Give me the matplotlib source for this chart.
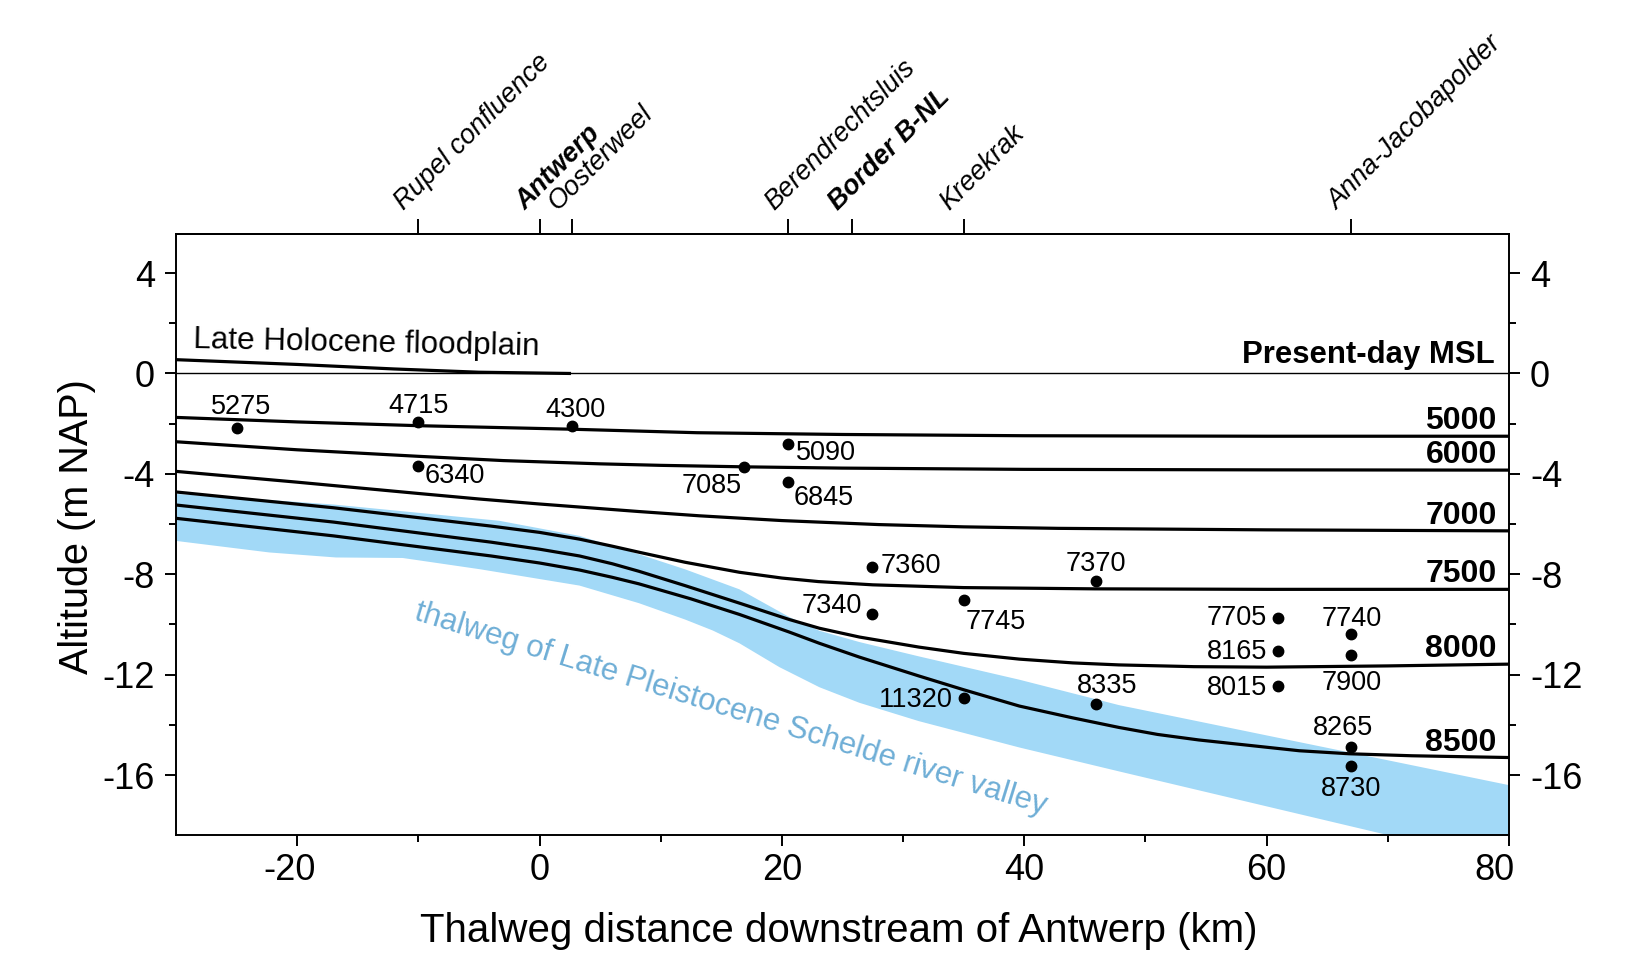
import matplotlib
matplotlib.use('Agg')
import matplotlib.pyplot as plt
import numpy as np

plt.rcParams['font.family'] = ['Liberation Sans', 'DejaVu Sans']
plt.rcParams['axes.unicode_minus'] = False

# ---------------- data ----------------
place_x = [-10, 0, 2.7, 20.5, 25.8, 35.0, 67.0]
place_names = ['Rupel confluence', 'Antwerp', 'Oosterweel', 'Berendrechtsluis',
               'Border B-NL', 'Kreekrak', 'Anna-Jacobapolder']
place_weight = ['normal', 'bold', 'normal', 'normal', 'bold', 'normal', 'normal']

x_major = [-20, 0, 20, 40, 60, 80]
x_minor = [-10, 10, 30, 50, 70]
y_major = [-16, -12, -8, -4, 0, 4]
y_minor = [-14, -10, -6, -2, 2]

floodplain_x = [-30, -20, -12, -5, 2.6]
floodplain_y = [0.55, 0.36, 0.18, 0.05, 0.0]

l5000_x = [-30, -20, -10, 2.6, 13, 25, 40, 60, 80]
l5000_y = [-1.75, -1.93, -2.08, -2.22, -2.36, -2.43, -2.48, -2.5, -2.5]
l6000_x = [-30, -20, -10, -3, 5, 10, 17, 25, 40, 60, 80]
l6000_y = [-2.72, -3.04, -3.3, -3.47, -3.6, -3.66, -3.72, -3.77, -3.82, -3.84, -3.85]
l7000_x = [-30, -20, -10, -5, 0, 8.2, 13.2, 20, 28, 35, 42.8, 60, 80]
l7000_y = [-3.9, -4.33, -4.78, -5.0, -5.2, -5.5, -5.67, -5.86, -6.02, -6.11, -6.17, -6.23, -6.27]
l7500_x = [-30, -17, -4, 0, 3.3, 6, 8.2, 12, 16.5, 20, 23, 27.5, 35, 45.8, 60, 80]
l7500_y = [-4.72, -5.35, -6.08, -6.33, -6.6, -6.88, -7.12, -7.52, -7.92, -8.15, -8.29,
           -8.42, -8.53, -8.58, -8.6, -8.6]
l8000_x = [-30, -17, -4, 0, 3.3, 6, 8.2, 12, 16.5, 20.6, 23.1, 26.4, 31.3, 35, 39.6, 44,
           47.8, 54, 60, 70, 80]
l8000_y = [-5.24, -5.92, -6.72, -7.0, -7.27, -7.58, -7.88, -8.45, -9.15, -9.8, -10.15,
           -10.5, -10.9, -11.15, -11.38, -11.53, -11.61, -11.68, -11.7, -11.65, -11.58]
l8500_x = [-30, -17, -4, 0, 3.3, 6, 8.2, 12.5, 16.5, 20.6, 23.1, 26.4, 31.3, 35, 39.6, 44,
           47.8, 51, 54.4, 62.7, 66.8, 72, 80]
l8500_y = [-5.77, -6.47, -7.27, -7.55, -7.83, -8.12, -8.38, -8.98, -9.6, -10.3, -10.75,
           -11.3, -12.05, -12.6, -13.25, -13.72, -14.1, -14.38, -14.6, -15.03, -15.15,
           -15.23, -15.3]

iso_names = ['5000', '6000', '7000', '7500', '8000', '8500']
iso_x = [l5000_x, l6000_x, l7000_x, l7500_x, l8000_x, l8500_x]
iso_y = [l5000_y, l6000_y, l7000_y, l7500_y, l8000_y, l8500_y]

valley_top_x = [-30, -22, -17, -10, -3.3, 3.3, 8.2, 12, 16.5, 20.6, 23.1, 26.4, 31.3,
                39.6, 47.8, 80]
valley_top_y = [-4.8, -5.05, -5.22, -5.55, -5.87, -6.47, -7.2, -7.8, -8.6, -9.7, -10.25,
                -10.7, -11.27, -12.2, -13.21, -16.4]
valley_bot_x = [-30, -22.3, -16.8, -11.3, -4.9, 3.3, 8.2, 12, 14.3, 16.5, 19.8, 23.1,
                26.4, 31.3, 39.6, 47.8, 70.1, 80]
valley_bot_y = [-6.67, -7.13, -7.33, -7.35, -7.8, -8.45, -9.15, -9.8, -10.24, -10.75,
                -11.7, -12.5, -13.12, -13.85, -14.9, -15.85, -18.4, -19.55]

dot_labels = ['5275', '4715', '4300', '5090', '6340', '7085', '6845', '7360', '7370', '7340',
              '7745', '7705', '7740', '8165', '7900', '8015', '11320', '8335', '8265', '8730']
dot_x = [-25, -10, 2.7, 20.5, -10, 16.9, 20.5, 27.4, 45.9, 27.4,
         35, 60.9, 67, 60.9, 67, 60.9, 35, 45.9, 67, 67]
dot_y = [-2.16, -1.92, -2.09, -2.81, -3.67, -3.71, -4.33, -7.70, -8.27, -9.59,
         -9.02, -9.73, -10.39, -11.05, -11.21, -12.45, -12.94, -13.17, -14.87, -15.63]

# label layout (pixel offsets from dot, alignment)
dot_lab_layout = [(5, 14, 'center'), (0, 9, 'center'), (3.6, 9.3, 'center'), (8, -16, 'left'),
                  (6.6, -17.6, 'left'), (-2.4, -26.7, 'right'), (6, -22.7, 'left'),
                  (9, -6, 'left'), (0, 10, 'center'), (-10, 1, 'right'),
                  (1.7, -29, 'left'), (-10.7, -7.3, 'right'), (0, 8.3, 'center'),
                  (-10.7, -8.3, 'right'), (0, -35, 'center'), (-10.7, -9, 'right'),
                  (-10.7, -8.4, 'right'), (11.6, 10.7, 'center'), (-8.3, 11.7, 'center'),
                  (0, -30, 'center')]

PX = 72.0 / 100.0  # points per pixel

# ---------------- figure ----------------
fig = plt.figure(figsize=(16.4, 9.55), dpi=100)
ax = fig.add_axes([0.1073, 0.1253, 0.8128, 0.6295])

valley_color = '#a2d9f7'
ax.fill(np.concatenate([valley_top_x, valley_bot_x[::-1]]),
        np.concatenate([valley_top_y, valley_bot_y[::-1]]),
        color=valley_color, lw=0, zorder=1)

ax.axhline(0, color='black', lw=1.0, zorder=2)
ax.plot(floodplain_x, floodplain_y, color='black', lw=2.3, zorder=3,
        solid_capstyle='butt', solid_joinstyle='round')

for nm, xs, ys in zip(iso_names, iso_x, iso_y):
    ax.plot(xs, ys, color='black', lw=2.3, zorder=3, solid_joinstyle='round')
    ax.annotate(nm, xy=(79.0, ys[-1]), xytext=(0, 7 * PX), textcoords='offset points',
                ha='right', va='baseline', fontsize=23, fontweight='bold', zorder=5)

ax.plot(dot_x, dot_y, 'o', color='black', ms=7.5, zorder=4)
for lab, x, y, (dx, dy, ha) in zip(dot_labels, dot_x, dot_y, dot_lab_layout):
    ax.annotate(lab, xy=(x, y), xytext=(dx * PX, dy * PX), textcoords='offset points',
                ha=ha, va='baseline', fontsize=19.5, zorder=5)

ax.text(-28.6, 1.0, 'Late Holocene floodplain', fontsize=22.6, ha='left', va='baseline',
        rotation=-1.2, rotation_mode='anchor')
ax.text(78.8, 0.42, 'Present-day MSL', fontsize=22.4, fontweight='bold', ha='right',
        va='baseline')
ax.text(-10.4, -9.8, 'thalweg of Late Pleistocene Schelde river valley', fontsize=22.4,
        color='#6eaed6', rotation=-17.2, rotation_mode='anchor', ha='left', va='baseline')

ax.set_xlim(-30, 80)
ax.set_ylim(-18.4, 5.55)

ax.set_xticks(x_major)
ax.set_xticks(x_minor, minor=True)
ax.set_xticklabels([])
ax.set_yticks(y_major)
ax.set_yticks(y_minor, minor=True)

ax.tick_params(axis='x', which='both', top=False, bottom=True, direction='out', width=1.4)
ax.tick_params(axis='x', which='major', length=10.7 * PX)
ax.tick_params(axis='x', which='minor', length=7 * PX)
ax.tick_params(axis='y', which='both', left=True, right=True, labelleft=True,
               labelright=True, direction='out', labelsize=26, width=1.4, pad=7.5)
ax.tick_params(axis='y', which='major', length=10.7 * PX)
ax.tick_params(axis='y', which='minor', length=6.7 * PX)

# bottom tick labels (number part centred on the tick, last label pulled inside)
for v in x_major:
    dx = 0.0
    if v < 0:
        dx = -7.3
    if v == x_major[-1]:
        dx = -15.0
    ax.annotate(f'{v:d}', xy=(v, 0), xycoords=('data', 'axes fraction'),
                xytext=(dx * PX, -17.5 * PX), textcoords='offset points',
                ha='center', va='top', fontsize=26)

for sp in ax.spines.values():
    sp.set_linewidth(1.4)

ax.set_xlabel('Thalweg distance downstream of Antwerp (km)', fontsize=29)
ax.xaxis.set_label_coords(0.497, -0.1276)
ax.set_ylabel('Altitude (m NAP)', fontsize=28.5)
ax.yaxis.set_label_coords(-0.060, 0.514)

secax = ax.secondary_xaxis('top')
secax.set_xticks(place_x, labels=[''] * len(place_x))
secax.tick_params(axis='x', length=15 * PX, width=1.4, direction='out')
secax.spines['top'].set_linewidth(1.4)
for x, nm, w in zip(place_x, place_names, place_weight):
    ax.annotate(nm, xy=(x, 1), xycoords=('data', 'axes fraction'),
                xytext=(-10 * PX, 19 * PX), textcoords='offset points',
                rotation=45, rotation_mode='anchor', ha='left', va='bottom',
                fontsize=19.4, fontstyle='italic', fontweight=w, annotation_clip=False)

fig.savefig('out.png', dpi=100)
